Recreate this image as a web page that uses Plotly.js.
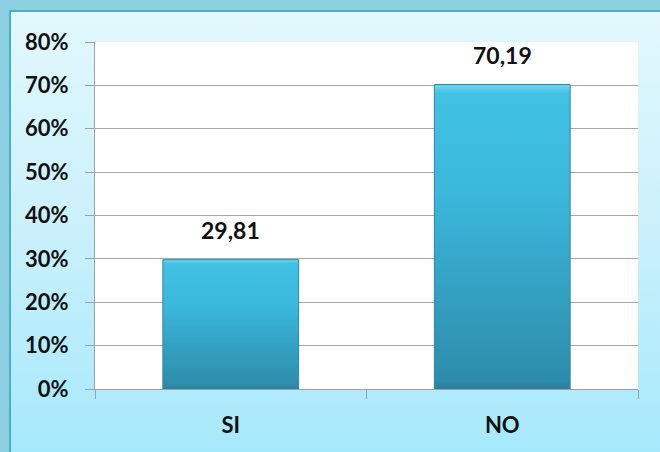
<!DOCTYPE html>
<html>
<head>
<meta charset="utf-8">
<script src="https://cdn.plot.ly/plotly-3.0.1.min.js"></script>
<style>
  html, body { margin: 0; padding: 0; }
  #frame { position: absolute; left: 0; top: 0; width: 660px; height: 452px; background: #8dd0e2; overflow: hidden; }
  #inner { position: absolute; left: 9px; top: 10px; width: 651px; height: 442px;
           border-left: 2px solid #4aafcf; border-top: 2px solid #4aafcf;
           background: linear-gradient(to bottom, #e2f8fd 0%, #c9f0fb 50%, #a5e9fc 100%); }
  #chart { position: absolute; left: 0; top: 0; width: 660px; height: 452px; }
</style>
</head>
<body>
<div id="frame"><div id="inner"></div></div>
<div id="chart"></div>
<script>
const categories = ["SI", "NO"];
const values = [29.81, 70.19];
const tickValues = [0, 10, 20, 30, 40, 50, 60, 70, 80];

const fontFam = "Lato, 'Open Sans', sans-serif";

const trace = {
  type: "bar",
  x: categories,
  y: values,
  marker: { color: "#37acd0", line: { color: "#2b87a3", width: 1 } },
  hoverinfo: "none"
};

const annotations = categories.map((c, i) => ({
  x: c, y: values[i], xref: "x", yref: "y",
  text: values[i].toFixed(2).replace(".", ","),
  showarrow: false, yanchor: "bottom", yshift: 14,
  font: { family: fontFam, size: 23, color: "#111111", weight: "bold" }
}));

const layout = {
  width: 660, height: 452,
  margin: { l: 95, r: 22, t: 42, b: 63 },
  paper_bgcolor: "rgba(0,0,0,0)",
  plot_bgcolor: "#ffffff",
  bargap: 0.5,
  showlegend: false,
  font: { family: fontFam, size: 22, color: "#111111", weight: "bold" },
  xaxis: {
    type: "category",
    showgrid: false,
    showline: true, linecolor: "#a0a0a0", linewidth: 1,
    ticks: "outside", tickson: "boundaries", ticklen: 9, tickcolor: "#a0a0a0",
    ticklabelstandoff: 17,
    tickfont: { family: fontFam, size: 22, color: "#111111", weight: "bold" },
    fixedrange: true
  },
  yaxis: {
    range: [0, 80],
    tickvals: tickValues,
    ticktext: tickValues.map(v => v + "%"),
    showgrid: true, gridcolor: "#a6a6a6", gridwidth: 1,
    zeroline: false,
    showline: true, linecolor: "#a0a0a0", linewidth: 1,
    ticks: "outside", ticklen: 9, tickcolor: "#a0a0a0",
    ticklabelstandoff: 12,
    tickfont: { family: fontFam, size: 22, color: "#111111", weight: "bold" },
    fixedrange: true
  },
  annotations: annotations
};

Plotly.newPlot("chart", [trace], layout, { staticPlot: true, displayModeBar: false }).then(gd => {
  const svg = gd.querySelector("svg.main-svg");
  const ns = "http://www.w3.org/2000/svg";
  let defs = svg.querySelector("defs");
  if (!defs) { defs = document.createElementNS(ns, "defs"); svg.insertBefore(defs, svg.firstChild); }
  const grad = document.createElementNS(ns, "linearGradient");
  grad.setAttribute("id", "barGrad");
  grad.setAttribute("x1", "0"); grad.setAttribute("y1", "0");
  grad.setAttribute("x2", "0"); grad.setAttribute("y2", "1");
  [["0", "#6fd8f2"], ["0.03", "#40c2e5"], ["0.35", "#3bb8dc"], ["0.97", "#2e8cab"], ["1", "#2a7f99"]].forEach(([o, c]) => {
    const s = document.createElementNS(ns, "stop");
    s.setAttribute("offset", o); s.setAttribute("stop-color", c);
    grad.appendChild(s);
  });
  defs.appendChild(grad);
  gd.querySelectorAll(".bars .point path").forEach(p => { p.style.fill = "url(#barGrad)"; });
});
</script>
</body>
</html>
